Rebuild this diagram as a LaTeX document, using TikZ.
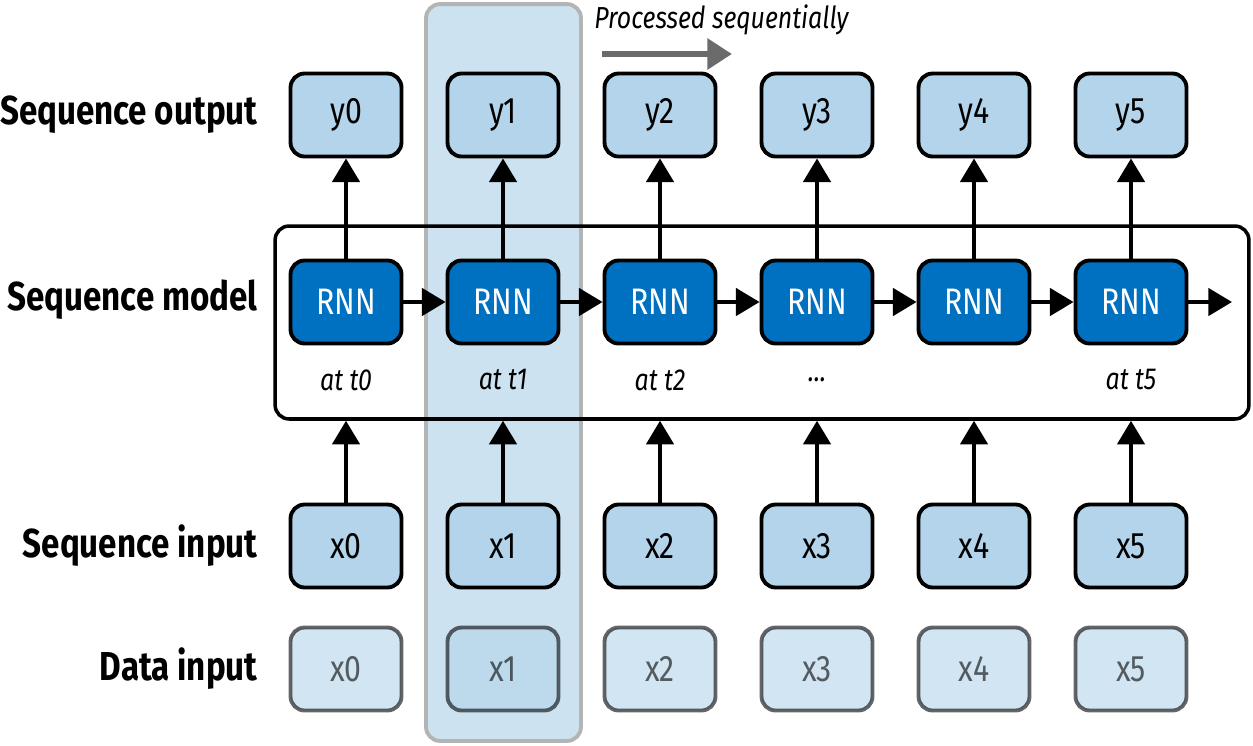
\documentclass[tikz,border=0pt]{standalone}
\usepackage{fontspec}
\setmainfont{Fira Sans}[FakeStretch=0.82]
\usetikzlibrary{arrows.meta,positioning}
\definecolor{sblue}{HTML}{B3D4EA}
\definecolor{rblue}{HTML}{0070C0}
\definecolor{hblue}{HTML}{CCE2F0}
\definecolor{hgray}{HTML}{B4B4B4}
\definecolor{agray}{HTML}{6B6B6B}
\tikzset{
  % light blue cell with a heavy black outline
  cell/.style  = {rectangle, rounded corners=8pt, draw=black, fill=sblue, line width=2.2pt,
                  minimum width=2.22cm, minimum height=1.66cm, inner sep=0pt,
                  font=\fontsize{21}{24}\selectfont},
  rnn/.style   = {cell, fill=rblue, text=white},
  ghost/.style = {cell, opacity=0.6},
  rowlbl/.style = {anchor=east, inner sep=0pt, font=\fontsize{23}{26}\selectfont\bfseries},
  tlbl/.style  = {inner sep=0pt, font=\fontsize{17.3}{20}\selectfont\itshape},
  flow/.style  = {-{Triangle[length=13.5pt,width=15.5pt]}, line width=2.4pt},
  bigflow/.style = {-{Triangle[length=14pt,width=17pt]}, line width=3.6pt, agray},
}
\begin{document}
\begin{tikzpicture}[x=0.02cm,y=-0.02cm]
\useasboundingbox (0,0) rectangle (1253,745);
% highlighted time step
\node[draw=hgray, fill=hblue, line width=2.2pt, rounded corners=8pt, inner sep=0pt,
      minimum width=3.1cm, minimum height=14.74cm] (focus) at (503.5,372.5) {};
\node[draw, line width=2pt, rounded corners=8pt, inner sep=0pt,
      minimum width=19.48cm, minimum height=3.86cm] (frame) at (762,322.5) {};
\foreach \i/\x in {0/346,1/503,2/660,3/817,4/974,5/1131} {
  \node[cell]  (y\i) at (\x,115) {y\i};
  \node[rnn]   (r\i) at (\x,302) {RNN};
  \node[cell]  (x\i) at (\x,546) {x\i};
  \node[ghost] (d\i) at (\x,669) {x\i};
  \draw[flow] (r\i) -- (y\i);
  \draw[flow] (x\i.north) -- (x\i.north |- frame.south);
}
\foreach \i [evaluate=\i as \j using int(\i+1)] in {0,...,4}
  \draw[flow] (r\i) -- (r\j);
\coordinate (rend) at (1232,302);
\draw[flow] (r5) -- (rend);
\foreach \i/\x in {0/346,1/503,2/660,5/1131}
  \node[tlbl] (t\i) at (\x,380) {at t\i};
\node[tlbl] (t3) at (817,380) {...};
% row labels
\node[rowlbl] (lout) at (258,115) {Sequence output};
\node[rowlbl] (lmod) at (258,300) {Sequence model};
\node[rowlbl] (lin)  at (258,546) {Sequence input};
\node[rowlbl] (ldat) at (258,669) {Data input};
% direction of processing
\node[tlbl, anchor=west] (proc) at (594,20) {Processed sequentially};
\coordinate (ps) at (602,54);
\coordinate (pe) at (732,54);
\draw[bigflow] (ps) -- (pe);
\end{tikzpicture}
\end{document}
